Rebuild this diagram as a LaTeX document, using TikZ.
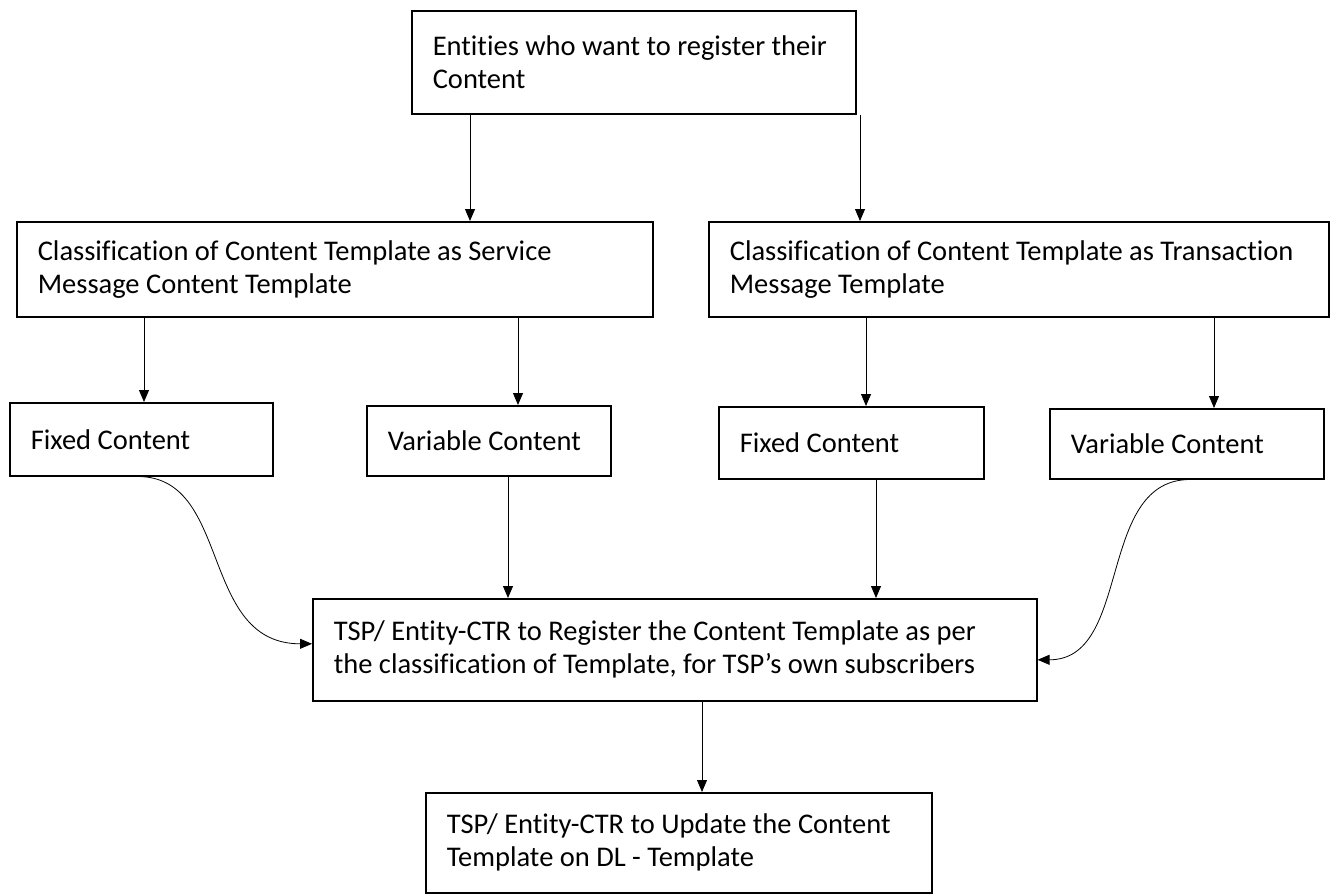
\documentclass[tikz,border=0pt]{standalone}
\usepackage{fontspec}
\setmainfont{Carlito}[Ligatures=NoCommon]
\usetikzlibrary{arrows.meta, positioning}

\begin{document}
\begin{tikzpicture}[x=1pt, y=-1pt,
	box/.style={draw, line width=1.6pt, anchor=north west, align=flush left, inner xsep=21pt, inner ysep=0pt, font=\fontsize{28.5}{33}\selectfont},
	arr/.style={-{Triangle[length=12pt, width=10pt]}, line width=0.8pt}]
	\useasboundingbox (0,0) rectangle (1343,894);

	\node[box, text width=402pt, minimum height=103pt] (entities) at (411,10) {Entities who want to register their\\Content};
	\node[box, text width=594pt, minimum height=95pt] (svc) at (16,221) {Classification of Content Template as Service\\Message Content Template};
	\node[box, text width=578pt, minimum height=95pt] (txn) at (708,221) {Classification of Content Template as Transaction\\Message Template};
	\node[box, text width=221pt, minimum height=73pt] (fixA) at (9,402) {Fixed Content};
	\node[box, text width=202pt, minimum height=70pt] (varA) at (366,405) {Variable Content};
	\node[box, text width=223pt, minimum height=72pt] (fixB) at (718,406) {Fixed Content};
	\node[box, text width=232pt, minimum height=70pt] (varB) at (1049,408) {Variable Content};
	\node[box, text width=682pt, minimum height=102pt] (register) at (312,598) {TSP/ Entity-CTR to Register the Content Template as per\\the classification of Template, for TSP’s own subscribers};
	\node[box, text width=464pt, minimum height=100pt] (update) at (425,792) {TSP/ Entity-CTR to Update the Content\\Template on DL - Template};

	\coordinate (e1) at (470,0);
	\coordinate (e2) at (860,0);
	\coordinate (s1) at (144,0);
	\coordinate (s2) at (518,0);
	\coordinate (t1) at (866,0);
	\coordinate (t2) at (1214,0);
	\coordinate (v1) at (508,0);
	\coordinate (f1) at (876,0);
	\coordinate (r1) at (702,0);

	\draw[arr] (entities.south -| e1) -- (svc.north -| e1);
	\draw[arr] (entities.south -| e2) -- (txn.north -| e2);
	\draw[arr] (svc.south -| s1) -- (fixA.north -| s1);
	\draw[arr] (svc.south -| s2) -- (varA.north -| s2);
	\draw[arr] (txn.south -| t1) -- (fixB.north -| t1);
	\draw[arr] (txn.south -| t2) -- (varB.north -| t2);
	\draw[arr] (varA.south -| v1) -- (register.north -| v1);
	\draw[arr] (fixB.south -| f1) -- (register.north -| f1);
	\draw[arr] (fixA.south) .. controls +(90,4) and +(-112,0) .. ([yshift=6pt]register.west);
	\draw[arr] (varB.south) .. controls +(-90,4) and +(94,0) .. ([yshift=-10pt]register.east);
	\draw[arr] (register.south -| r1) -- (update.north -| r1);
\end{tikzpicture}
\end{document}
